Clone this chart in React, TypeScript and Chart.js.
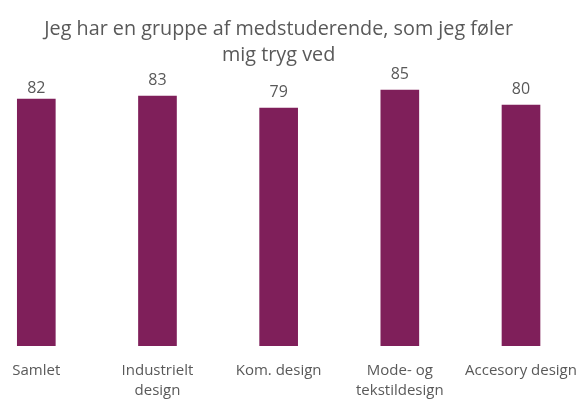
import React, { useEffect, useRef } from "react";
import { Chart, registerables } from "chart.js";

Chart.register(...registerables);

const titleLines = ["Jeg har en gruppe af medstuderende, som jeg føler", "mig tryg ved"];
const categories: (string | string[])[] = [
  "Samlet",
  ["Industrielt", "design"],
  "Kom. design",
  ["Mode- og", "tekstildesign"],
  "Accesory design",
];
const values = [82, 83, 79, 85, 80];

const BAR_COLOR = "#7F1F5A";
const TEXT_COLOR = "#595959";
const FONT = "'Open Sans', 'Noto Sans', sans-serif";

// vertical gap (px) between bar top and value label baseline; first label sits closer
const LABEL_GAP_DEFAULT = 11.5;
const LABEL_GAP_FIRST = 5.8;

const valueLabels = {
  id: "valueLabels",
  afterDatasetsDraw(chart: any) {
    const ctx = chart.ctx;
    const meta = chart.getDatasetMeta(0);
    ctx.save();
    ctx.font = `16px ${FONT}`;
    ctx.fillStyle = TEXT_COLOR;
    ctx.textAlign = "center";
    ctx.textBaseline = "alphabetic";
    meta.data.forEach((el: any, i: number) => {
      const gap = i === 0 ? LABEL_GAP_FIRST : LABEL_GAP_DEFAULT;
      ctx.fillText(String(chart.data.datasets[0].data[i]), el.x, el.y - gap);
    });
    ctx.restore();
  },
};

export default function App() {
  const ref = useRef<HTMLCanvasElement>(null);
  useEffect(() => {
    if (!ref.current) return;
    const chart = new Chart(ref.current, {
      type: "bar",
      data: {
        labels: categories,
        datasets: [
          {
            data: values,
            backgroundColor: BAR_COLOR,
            barThickness: 38,
            clip: false as any,
          },
        ],
      },
      plugins: [valueLabels],
      options: {
        animation: false,
        responsive: true,
        maintainAspectRatio: false,
        layout: { padding: { left: 36.3, right: 61, top: 0, bottom: 0 } },
        plugins: {
          legend: { display: false },
          tooltip: { enabled: false },
          title: {
            display: true,
            text: titleLines,
            color: TEXT_COLOR,
            font: { family: FONT, size: 19.8, weight: "normal", lineHeight: 1.34 },
            padding: { top: 16, bottom: 6 },
          },
        },
        scales: {
          x: {
            offset: false,
            grid: { display: false, drawTicks: false },
            border: { display: false },
            ticks: {
              color: TEXT_COLOR,
              font: { family: FONT, size: 15, lineHeight: 1.333 },
              padding: 15,
              maxRotation: 0,
              autoSkip: false,
            },
            afterFit(scale: any) {
              scale.paddingLeft = 0;
              scale.paddingRight = 0;
              scale.height = 55.3;
            },
          },
          y: {
            display: false,
            min: 0,
            max: 90,
          },
        },
      },
    });
    return () => chart.destroy();
  }, []);
  return (
    <div style={{ position: "absolute", left: 0, top: 0, width: 582, height: 401 }}>
      <canvas ref={ref} />
    </div>
  );
}
